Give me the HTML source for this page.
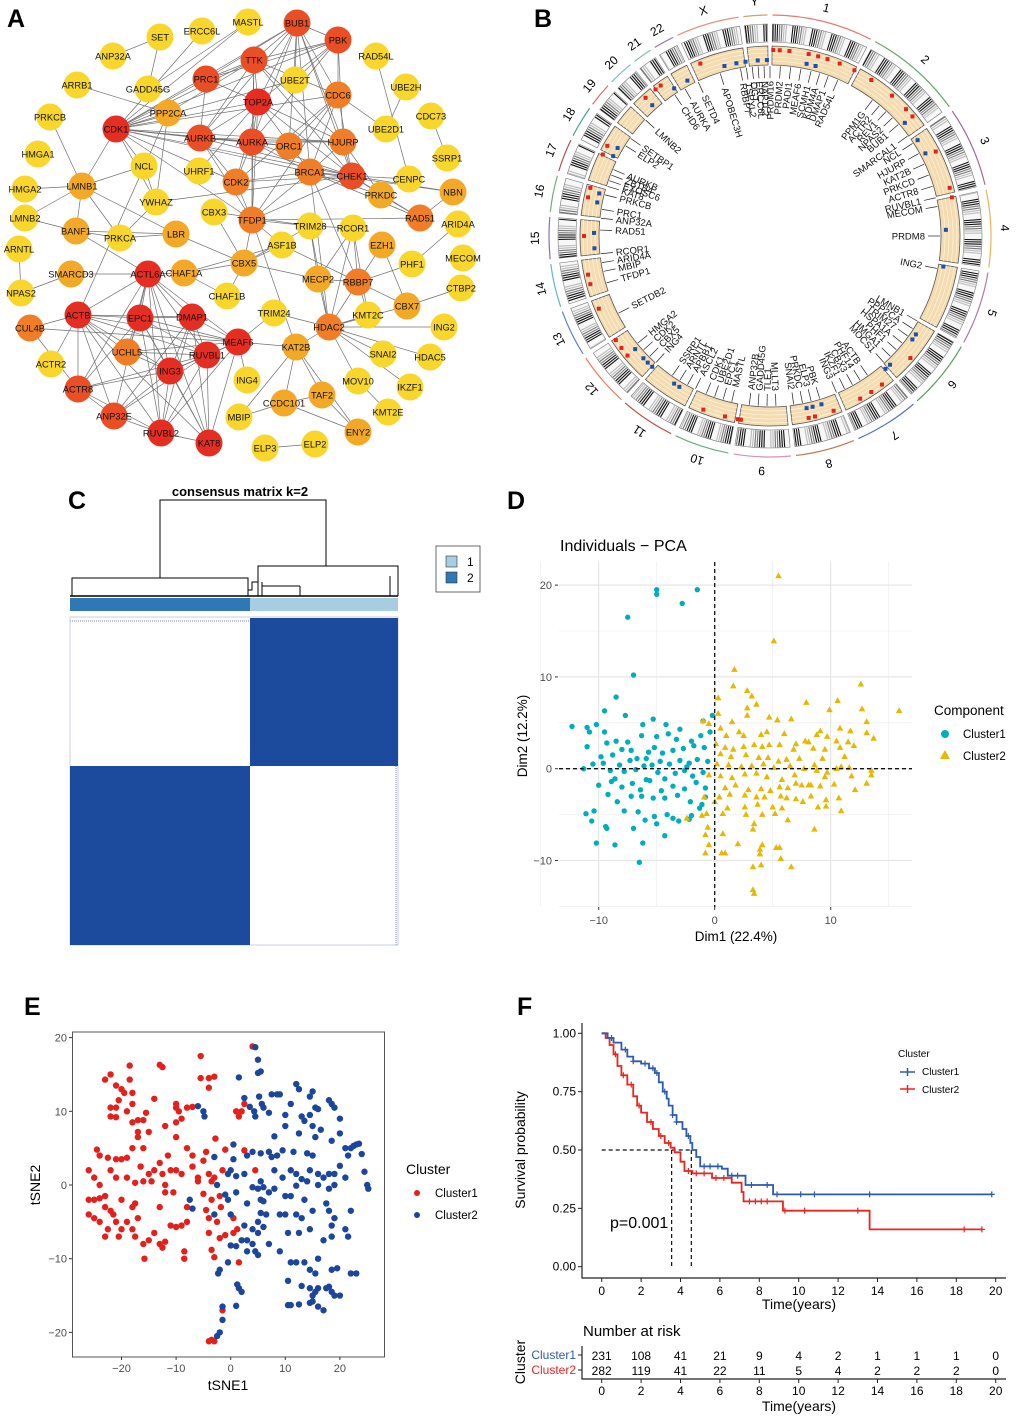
<!DOCTYPE html>
<html><head><meta charset="utf-8"><title>Multi-panel figure</title>
<style>
html,body{margin:0;padding:0;background:#fff;}
svg{display:block;font-family:"Liberation Sans",Arial,sans-serif;}
</style></head>
<body>
<svg id="fig" width="1020" height="1417" viewBox="0 0 1020 1417" xmlns="http://www.w3.org/2000/svg">
<rect x="0" y="0" width="1020" height="1417" fill="#fff"/>
<g id="pA"></g>
<g id="pB"></g>
<g id="pC"></g>
<g id="pD"></g>
<g id="pE"></g>
<g id="pF"></g>
<text x="7" y="27" font-size="25" font-weight="bold">A</text>
<text x="534" y="27" font-size="25" font-weight="bold">B</text>
<text x="68" y="509" font-size="25" font-weight="bold">C</text>
<text x="507" y="509" font-size="25" font-weight="bold">D</text>
<text x="24" y="1015" font-size="25" font-weight="bold">E</text>
<text x="517" y="1015" font-size="25" font-weight="bold">F</text>
</svg>
<script>
const NS='http://www.w3.org/2000/svg';
function mk(tag,attrs,parent){const e=document.createElementNS(NS,tag);for(const k in attrs)e.setAttribute(k,attrs[k]);parent.appendChild(e);return e;}
function tx(str,attrs,parent){const e=mk('text',attrs,parent);e.textContent=str;return e;}

/* ================= PANEL A: network ================= */
const netNodes=[["BUB1",297,23,"ro"],["PBK",338,40,"ro"],["MASTL",248,22,"y"],["ERCC6L",202,31,"y"],["SET",160,37,"y"],["ANP32A",113,56,"y"],["TTK",254,60,"ro"],["PRC1",206,79,"ro"],["UBE2T",295,80,"y"],["RAD54L",376,56,"y"],["UBE2H",406,87,"y"],["ARRB1",77,85,"y"],["GADD45G",148,89,"y"],["TOP2A",258,102,"r"],["CDC6",338,95,"o"],["PPP2CA",168,113,"oy"],["PRKCB",50,117,"y"],["CDC73",431,116,"y"],["CDK1",116,129,"r"],["UBE2D1",386,129,"y"],["AURKB",200,138,"ro"],["AURKA",252,142,"ro"],["ORC1",289,146,"o"],["HJURP",343,142,"o"],["HMGA1",38,154,"y"],["SSRP1",447,158,"y"],["NCL",144,166,"y"],["UHRF1",199,171,"y"],["BRCA1",310,172,"o"],["CHEK1",352,176,"ro"],["CENPC",409,179,"y"],["CDK2",236,182,"o"],["LMNB1",82,186,"oy"],["HMGA2",25,189,"y"],["PRKDC",381,195,"oy"],["NBN",453,192,"oy"],["YWHAZ",156,202,"y"],["CBX3",214,212,"y"],["TFDP1",252,220,"o"],["RAD51",420,218,"o"],["LMNB2",25,218,"y"],["TRIM28",310,226,"y"],["RCOR1",353,228,"y"],["ARID4A",458,224,"y"],["BANF1",76,231,"oy"],["PRKCA",120,238,"y"],["LBR",176,234,"oy"],["ASF1B",282,245,"y"],["EZH1",382,245,"oy"],["ARNTL",19,249,"y"],["MECOM",463,258,"y"],["CBX5",244,263,"oy"],["PHF1",412,264,"y"],["SMARCD3",71,274,"oy"],["ACTL6A",148,274,"r"],["CHAF1A",184,273,"oy"],["MECP2",318,279,"oy"],["RBBP7",358,282,"o"],["CTBP2",461,288,"y"],["NPAS2",21,293,"y"],["CHAF1B",227,296,"y"],["ACTB",78,315,"r"],["EPC1",140,318,"r"],["DMAP1",192,317,"r"],["CBX7",407,306,"oy"],["TRIM24",274,313,"y"],["KMT2C",368,315,"y"],["CUL4B",30,328,"o"],["HDAC2",329,327,"o"],["ING2",444,327,"y"],["MEAF6",238,342,"r"],["KAT2B",296,347,"oy"],["UCHL5",127,352,"o"],["RUVBL1",207,355,"r"],["SNAI2",383,354,"y"],["HDAC5",430,357,"y"],["ACTR2",51,364,"y"],["ING3",170,371,"r"],["ING4",247,380,"y"],["MOV10",358,381,"y"],["IKZF1",410,387,"y"],["ACTR8",78,389,"ro"],["TAF2",322,395,"oy"],["CCDC101",284,403,"oy"],["KMT2E",388,412,"y"],["ANP32E",114,416,"ro"],["MBIP",239,417,"y"],["ENY2",358,432,"oy"],["RUVBL2",161,433,"r"],["KAT8",209,443,"r"],["ELP3",265,448,"y"],["ELP2",315,444,"y"]];
const netEdgesSpec={
CDK1:"PRC1 TTK BUB1 PBK TOP2A AURKB AURKA ORC1 HJURP CHEK1 BRCA1 CDK2 TFDP1 LMNB1 NCL YWHAZ UBE2T CDC6 MASTL ERCC6L",
BUB1:"TTK PRC1 TOP2A AURKA AURKB CDC6 HJURP CHEK1 PBK UBE2T BRCA1 ORC1",
PBK:"TTK PRC1 TOP2A UBE2T AURKA HJURP CDC6",
TTK:"PRC1 TOP2A AURKA AURKB HJURP CDC6 TFDP1 CHEK1",
TOP2A:"AURKA AURKB PRC1 HJURP CHEK1 CDK2 UHRF1 BRCA1 TFDP1",
AURKB:"AURKA HJURP ORC1 CHEK1 TFDP1 PRC1 CDK2",
AURKA:"HJURP ORC1 TFDP1 CDK2 CHEK1 BRCA1",
CDC6:"ORC1 CHEK1 CDK2 TFDP1 UBE2D1 BRCA1",
HJURP:"CHEK1 BRCA1 PRKDC",
CHEK1:"BRCA1 PRKDC RAD51 NBN CDK2 TFDP1 CENPC YWHAZ",
BRCA1:"RAD51 NBN PRKDC RBBP7 TFDP1 CDK2 HDAC2",
RAD51:"NBN PRKDC TFDP1",
UBE2D1:"UBE2H",RAD54L:"CENPC",CDC73:"SSRP1",
TFDP1:"TRIM28 CBX5 ASF1B KAT2B CDK2",
TRIM28:"CBX5 CBX3 RCOR1 HDAC2 MECP2",
RCOR1:"HDAC2 RBBP7 KMT2C MECP2",
EZH1:"RBBP7 CBX7",PHF1:"RBBP7 ARID4A",
RBBP7:"HDAC2 MECP2 ASF1B CBX7 KMT2C",
HDAC2:"MECP2 KMT2C SNAI2 ING2 HDAC5 MOV10 IKZF1 CBX7 TRIM24",
CTBP2:"CBX7",KMT2E:"MOV10",
KAT2B:"TAF2 CCDC101 ENY2 MBIP HDAC2 MEAF6",
TAF2:"ENY2 CCDC101",CCDC101:"ENY2 MBIP",ELP3:"ELP2",ING4:"MEAF6",
ACTL6A:"ACTB EPC1 DMAP1 RUVBL1 RUVBL2 ING3 KAT8 MEAF6 SMARCD3 CHAF1A UCHL5 ANP32E ACTR8 BANF1",
ACTB:"EPC1 DMAP1 MEAF6 RUVBL1 ING3 KAT8 RUVBL2 ACTR8 CUL4B ACTR2 UCHL5 ANP32E PPP2CA",
EPC1:"DMAP1 MEAF6 RUVBL1 ING3 KAT8 RUVBL2 UCHL5 ACTR8",
DMAP1:"MEAF6 RUVBL1 ING3 KAT8 RUVBL2 ANP32E",
MEAF6:"RUVBL1 ING3 KAT8 RUVBL2 UCHL5 CUL4B TRIM24",
RUVBL1:"ING3 KAT8 RUVBL2 UCHL5 ANP32E ACTR8",
ING3:"KAT8 RUVBL2 ACTR8 ANP32E UCHL5",
RUVBL2:"KAT8 ACTR8 ANP32E",ACTR8:"ANP32E CUL4B",
LMNB1:"HMGA2 LMNB2 BANF1 PRKCB LBR PRKCA NCL",
BANF1:"LMNB2 PRKCA LBR",SMARCD3:"NPAS2",ARNTL:"NPAS2",
PRKCA:"YWHAZ LBR",YWHAZ:"NCL PPP2CA",LBR:"CBX5",
CBX5:"CHAF1A CHAF1B ASF1B CBX3 MECP2",CHAF1A:"CHAF1B ASF1B",
PPP2CA:"ARRB1 CDK1 TTK",ANP32A:"SET",SET:"GADD45G",GADD45G:"MASTL"};
const levelColor={r:"#e52d22",ro:"#ea4e24",o:"#f07e26",oy:"#f4a926",y:"#f8d62c"};
(function(){
 const g=document.getElementById('pA');
 const pos={};netNodes.forEach(n=>pos[n[0]]=n);
 const eg=mk('g',{},g);
 
 
 for(const a in netEdgesSpec){netEdgesSpec[a].split(' ').forEach(b=>{
   if(!pos[b])return;
   const l=mk('line',{x1:pos[a][1],y1:pos[a][2],x2:pos[b][1],y2:pos[b][2],stroke:'#707070','stroke-width':0.7},eg);
   
   
 });}
 netNodes.forEach(n=>{
   const ng=mk('g',{},g);
   
   
   mk('circle',{cx:n[1],cy:n[2],r:13.5,fill:levelColor[n[3]]},ng);
   tx(n[0],{x:n[1],y:n[2]+3.3,'text-anchor':'middle','font-size':9.3,fill:'#111'},ng);
 });
})();

/* ================= PANEL B: circos ================= */
const chrNames=["1","2","3","4","5","6","7","8","9","10","11","12","13","14","15","16","17","18","19","20","21","22","X","Y"];
const chrSizes=[249,243,198,191,181,171,159,146,141,136,135,134,115,107,103,90,81,78,59,63,48,51,155,59];
const chrColors=["#e8786c","#6aa86c","#9e6a9a","#e8b458","#b07ab0","#5c9c60","#5a70c8","#c07850","#d890b8","#68b080","#b85040","#e88060","#6080c8","#60b8c8","#8a6cb8","#70b070","#b05050","#50a090","#d07060","#70c0d0","#80c0b0","#9070b0","#e89080","#d0a070"];
const geneNames=["PRDM16","PRDM2","PADI1","MEAF6","SCMH1","KDM4A","DMAP1","RAD54L","PPM1G","ACTR2","REV1","NPAS2","BUB1","SMARCAL1","NCL","HJURP","KAT2B","PRKCD","ACTR8","RUVBL1","MECOM","PRDM8","ING2","LMNB1","PPP2CA","TRIM27","HSPA1A","PHF1","HMGA1","MOCS1","ACTB","PHF14","CBX3","IKZF1","ING3","PBK","ELP3","PRKDC","SNAI2","MLLT3","TLE1","GADD45G","ANP32B","MASTL","EPC1","UBE2D1","CDK1","ASCL2","APBB1","ARNTL","SSRP1","ING4","CBX5","CDK2","HMGA2","SETDB2","TFDP1","MBIP","ARID4A","RCOR1","RAD51","ANP32A","PRC1","PRKCB","KAT8","EXOSC6","ZBTB4","AURKB","ELP2","SETBP1","LMNB2","CHD6","AURKA","SETD4","APOBEC3H","RBBP7","TSPYL2","OGT","ERCC6L","NAP1L2"];
const geneAngles=[0,3.5,7,10.5,14,17,20,23.5,37,40,43,46,49,54,57,61,65,69,73,77,80,90,101,120,123,126,129,132,135,138,145,148,151,154,157,163,166,169,172,178,181,184,187,193,196,199,202,206,209,212,215,222,225,228,231,243,254,258,261,264,272,276,279,284,287,289,291,293,302,305,313,326,330,335,343,350,352,354,356,358];
const markRedAngles=[1,3,6,12,15,18,22,27,33,41,47,50,63,75,78,131,143,147,151,160,166,168,189,190,194,201,230,233,236,247,255,258,270,282,285,296,299,318,322,324,338];
const markBlueAngles=[12,15,50,57,62,88,100,124,126,137,139,163,166,168,211,213,222,224,226,230,266,271,281,284,297,300,318,327,332,345,349,352,356,359];
(function(){
 const g=document.getElementById('pB');
 const cx=770,cy=236;
 const P=(r,t)=>{const a=t*Math.PI/180;return [cx+r*Math.sin(a),cy-r*Math.cos(a)];};
 const sector=(r1,r2,a1,a2)=>{const p1=P(r2,a1),p2=P(r2,a2),p3=P(r1,a2),p4=P(r1,a1);const lg=(a2-a1)>180?1:0;
   return `M${p1[0]},${p1[1]} A${r2},${r2} 0 ${lg} 1 ${p2[0]},${p2[1]} L${p3[0]},${p3[1]} A${r1},${r1} 0 ${lg} 0 ${p4[0]},${p4[1]} Z`;};
 const arc=(r,a1,a2)=>{const p1=P(r,a1),p2=P(r,a2);return `M${p1[0]},${p1[1]} A${r},${r} 0 0 1 ${p2[0]},${p2[1]}`;};
 const gap=1.3,total=chrSizes.reduce((a,b)=>a+b,0),scale=(360-gap*24)/total;
 let a=gap/2;
 chrNames.forEach((nm,i)=>{
   const a1=a,a2=a+chrSizes[i]*scale;a=a2+gap;
   const cg=mk('g',{},g);
   
   
   mk('path',{d:arc(221,a1,a2),fill:'none',stroke:chrColors[i],'stroke-width':1.2},cg);
   const mid=(a1+a2)/2,lp=P(235,mid);
   tx(nm,{x:lp[0],y:lp[1]+4,'text-anchor':'middle','font-size':12,transform:`rotate(${mid} ${lp[0]} ${lp[1]})`},cg);
   mk('path',{d:sector(194,212,a1,a2),fill:'#f7f7f7',stroke:'#777','stroke-width':0.6},cg);
   const n=Math.floor((a2-a1)/0.6);
   for(let k=0;k<n;k++){
     const s=(k*37+i*11)%9;
     if(s>6)continue;
     const col=s<3?'#111':(s<5?'#777':'#bbb');
     const b1=a1+(k+0.1)*(a2-a1)/n,b2=b1+0.5*(a2-a1)/n;
     mk('path',{d:sector(194.5,211.5,b1,b2),fill:col},cg);
   }
   mk('path',{d:sector(171,190,a1,a2),fill:'#f4dcb0',stroke:'#555','stroke-width':0.8},cg);
   [175,179,183,187].forEach(r=>mk('path',{d:arc(r,a1,a2),fill:'none',stroke:'#fff7e6','stroke-width':0.6},cg));
 });
 markRedAngles.forEach(t=>{const p=P(186,t);const m=mk('rect',{x:p[0]-2,y:p[1]-2,width:4,height:4,fill:'#e3241c'},g);
   
   });
 markBlueAngles.forEach(t=>{const p=P(176,t);const m=mk('rect',{x:p[0]-2,y:p[1]-2,width:4,height:4,fill:'#1f4fa8'},g);
   
   });
 geneNames.forEach((nm,i)=>{
   const t=geneAngles[i];
   const p1=P(170,t),p2=P(158,t);
   const lg=mk('g',{},g);
   
   
   mk('line',{x1:p1[0],y1:p1[1],x2:p2[0],y2:p2[1],stroke:'#222','stroke-width':0.7},lg);
   const q=P(155,t);
   let rot,anchor;
   if(t<=180){rot=t-90;anchor='end';}else{rot=t-270;anchor='start';}
   tx(nm,{x:q[0],y:q[1]+3.3,'text-anchor':anchor,'font-size':9.5,fill:'#111',transform:`rotate(${rot} ${q[0]} ${q[1]})`},lg);
 });
})();

/* ================= PANEL C: consensus ================= */
(function(){
 const g=document.getElementById('pC');
 tx('consensus matrix k=2',{x:240,y:496,'text-anchor':'middle','font-size':13,'font-weight':'bold'},g);
 const dg=mk('g',{stroke:'#000','stroke-width':1,fill:'none'},g);
 
 
 mk('path',{d:'M160,578 V500 H326 V566'},dg);
 mk('path',{d:'M72,596 V578 H248 V596'},dg);
 mk('path',{d:'M258,596 V566 H398 V596'},dg);
 mk('path',{d:'M248,590 H252 V582 H258'},dg);
 mk('line',{x1:70,y1:596,x2:398,y2:596,'stroke-width':1.5},dg);
 mk('path',{d:'M262,586 H300 M262,582 V596 M300,586 V596 M390,576 V596'},dg);
 const b1=mk('rect',{x:70,y:598,width:180,height:13,fill:'#2f78b5'},g);
 
 
 const b2=mk('rect',{x:250,y:598,width:148,height:13,fill:'#a7cde3'},g);
 
 
 mk('rect',{x:70,y:617,width:328,height:328,fill:'#fff',stroke:'#c8cce6','stroke-width':1},g);
 const h1=mk('rect',{x:250,y:618,width:148,height:148,fill:'#1c4a9c'},g);
 
 
 const h2=mk('rect',{x:70,y:766,width:180,height:179,fill:'#1c4a9c'},g);
 
 
 mk('line',{x1:396,y1:766,x2:396,y2:945,stroke:'#b9c1e2','stroke-width':2,'stroke-dasharray':'1 1'},g);
 mk('line',{x1:70,y1:621,x2:250,y2:621,stroke:'#b9c1e2','stroke-width':2,'stroke-dasharray':'1 1'},g);
 const lg=mk('g',{},g);
 
 
 mk('rect',{x:436,y:546,width:44,height:46,fill:'#fff',stroke:'#444','stroke-width':0.8},lg);
 mk('rect',{x:446,y:556,width:11,height:11,fill:'#a7cde3',stroke:'#333','stroke-width':0.6},lg);
 mk('rect',{x:446,y:572,width:11,height:11,fill:'#2f78b5',stroke:'#333','stroke-width':0.6},lg);
 tx('1',{x:467,y:566,'font-size':12},lg);
 tx('2',{x:467,y:582,'font-size':12},lg);
})();

/* ================= PANEL D: PCA ================= */
const pcaC1x=[-5,-5,-1.5,-2.8,-7.5,-7,-8.5,-9.5,-7.7,-5.3,-12.3,-11,-10.2,-10.8,-9.5,-6.2,-4.2,-3,-1,-0.2,-11,-9.3,-8.5,-7.5,-6.3,-5,-4,-3.3,-2,-1.2,-0.4,-9.8,-8.8,-8,-7.2,-6.7,-5.7,-5.2,-4.5,-3.6,-2.7,-1.8,-0.9,-10.5,-9.6,-8.2,-7.3,-6.1,-5.4,-4.7,-3.9,-3,-2.2,-1.5,-0.6,-11.3,-9,-7.8,-6.8,-5.9,-4.9,-4.3,-3.4,-2.6,-1.9,-1,-10,-8.9,-8,-7.1,-6.4,-5.6,-4.6,-3.6,-2.6,-1.6,-0.8,-9.2,-8.4,-7.2,-6.3,-5.3,-4.3,-3.2,-2.1,-1.1,-11.1,-10.6,-9.3,-7.8,-6.6,-6,-5.2,-4.1,-3.6,-2.2,-8.6,-10.2,-6.2,-4.3,-7,-6.5,-5,-2,-0.8,-1.3,-10.4,-9.4,-3.1,-5.9,-2.4,-8.6];
const pcaC1y=[19.5,19,19.5,18,16.5,10.2,7.8,6.3,5.8,5.4,4.6,4.5,4.8,4,4,4.8,4.8,4.3,5.2,5.8,2.4,2.8,3,2.9,3.6,3.5,3.8,3.2,3,3.6,4,1.3,1.5,2.1,2,1.1,1.8,2.3,1.7,2,2.2,2.5,2.3,0.5,0.6,0.4,0.9,0.3,0.4,0.8,0.5,0.9,0.6,1,0.8,0,-0.2,-0.3,-0.1,-1.2,-0.4,-1.1,-0.5,-0.2,-0.8,-0.4,-1.8,-1.4,-2,-1.6,-2.3,-1.3,-2.4,-1.9,-2.2,-1.5,-2.1,-2.8,-3.6,-3,-3,-3.2,-3.2,-2.9,-3.6,-3.9,-4.9,-5.7,-6.5,-4.6,-4.7,-5.6,-5.2,-5,-5.4,-5.5,-8.3,-8.1,-8.1,-7.3,-6.5,-10.2,-6,-5.1,-3.1,-4.3,-4.6,-6.3,-5.7,1.1,0.2,-1.1];
const pcaC2x=[5.5,5.1,1.7,1.6,2.8,3.2,0.3,3.6,2.8,2.8,0.3,1.5,4.7,5.4,6.6,7.9,9.9,10.6,12.6,12.7,13.1,15.9,13.1,13.7,11.7,10.8,9.1,8.8,9.7,10.5,11.5,12,-1,-0.5,0.5,1,2.1,2.5,4,4.5,6,7.8,8.1,0.1,0.9,1.6,2.5,3.4,4.1,4.7,5.6,6.8,7,8.5,9.5,10.8,11.2,0.5,1.4,2.7,3.8,4.6,5.5,6.2,7.3,8.6,9.3,10.9,11.6,0.2,1.2,2.3,3.2,4.2,5.1,6.5,7.7,8.8,9.7,10.5,0.5,1.5,2.6,3.6,4.5,5.8,6.9,7.5,8.3,9.5,11.8,13.5,13.5,-0.5,0.9,1.8,2.9,4,4.8,5.6,6.3,7,8.1,9.1,10.3,12.1,13.1,-0.9,0.4,1.3,2.6,3.6,4.3,5.7,6.2,7,7.6,8.3,9.6,10.7,0,1.1,2.6,3.7,5,5.8,8.9,9.6,10.9,0.7,2.7,4.1,5.2,-2.4,-0.7,3.4,3.3,8.6,-0.8,0.7,-0.5,2,-0.8,0.6,0.9,3.9,4.1,5.3,5.6,3.9,5.7,3.3,4,6.6,3.3,3.4,-1.1,6.3,-0.6];
const pcaC2y=[21,13.9,10.8,9,8.5,7.9,7.7,7,6.6,5.8,6,5.1,5.6,5.3,5.4,7.2,6.4,7.4,9.2,6.5,5.1,6.3,3.9,3.3,4.1,4.4,4.1,3.7,3.5,3,2.9,2.5,5.2,4.9,4.4,3.6,4,3.6,3.7,4,3.8,3,2.9,2.7,2.3,2.1,2.4,2.6,2.4,2.6,2.6,2.1,2.7,2.2,2.1,2.3,1.3,1.6,1.3,1.5,1.2,1.2,0.8,1,1.1,0.4,1.1,0.2,0.1,0.5,0.4,0.2,0.3,0.5,0.1,0.3,0,-0.2,-0.4,0,-0.8,-1,-0.6,-0.5,-0.9,-1.2,-0.7,-1.8,-1.8,-0.9,-0.8,-0.7,-0.2,-0.7,-2.1,-1.8,-2.3,-2.2,-2.4,-2,-2.1,-1.6,-1.8,-1.9,-1.7,-2.3,-1.6,-3.1,-3.1,-2.8,-2.9,-3.1,-3.1,-3,-3.2,-3.3,-3.6,-3,-3.4,-3.2,-3.6,-4.3,-4.2,-3.9,-4.2,-4.3,-4.2,-4.1,-4.6,-4.9,-5,-5,-4.9,-5.4,-4.9,-6,-6.6,-6.6,-7.2,-7.1,-8.3,-8.2,-9.2,-9.2,-9.2,-8.8,-8.3,-8.6,-8.6,-9.3,-9.8,-10.7,-10.5,-10.7,-13.2,-13.6,-5.1,-5.6,-6.4];
const pcaXTicks=[-10,0,10];
const pcaYTicks=[-10,0,10,20];
(function(){
 const g=document.getElementById('pD');
 const X=v=>714.7+11.6*v, Y=v=>768.7-9.18*v;
 const L=559,R=912,T=562,B=907;
 tx('Individuals \u2212 PCA',{x:560,y:551,'font-size':16},g);
 const gg=mk('g',{},g);
 
 
 [-15,-5,5,15].forEach(v=>mk('line',{x1:X(v),x2:X(v),y1:T,y2:B,stroke:'#f0f0f0','stroke-width':0.8},gg));
 [-15,-5,5,15].forEach(v=>mk('line',{x1:L,x2:R,y1:Y(v),y2:Y(v),stroke:'#f0f0f0','stroke-width':0.8},gg));
 pcaXTicks.forEach(v=>{mk('line',{x1:X(v),x2:X(v),y1:T,y2:B,stroke:'#e6e6e6','stroke-width':1.2},gg);
   tx(String(v).replace('-','\u2212'),{x:X(v),y:924,'text-anchor':'middle','font-size':11,fill:'#4d4d4d'},g);
   mk('line',{x1:X(v),x2:X(v),y1:B,y2:B+3,stroke:'#333'},g);});
 pcaYTicks.forEach(v=>{mk('line',{x1:L,x2:R,y1:Y(v),y2:Y(v),stroke:'#e6e6e6','stroke-width':1.2},gg);
   tx(String(v).replace('-','\u2212'),{x:552,y:Y(v)+4,'text-anchor':'end','font-size':11,fill:'#4d4d4d'},g);
   mk('line',{x1:555,x2:558,y1:Y(v),y2:Y(v),stroke:'#333'},g);});
 const c1=mk('g',{fill:'#00aebb'},g);
 
 
 pcaC1x.forEach((v,i)=>mk('circle',{cx:X(v),cy:Y(pcaC1y[i]),r:2.7},c1));
 const c2=mk('g',{fill:'#e6b800'},g);
 
 
 pcaC2x.forEach((v,i)=>{const x=X(v),y=Y(pcaC2y[i]);mk('path',{d:`M${x},${y-3.6} L${x+3.3},${y+2.3} L${x-3.3},${y+2.3}Z`},c2);});
 mk('line',{x1:X(0),x2:X(0),y1:T,y2:B,stroke:'#111','stroke-width':1.3,'stroke-dasharray':'4 3'},g);
 mk('line',{x1:L,x2:R,y1:Y(0),y2:Y(0),stroke:'#111','stroke-width':1.3,'stroke-dasharray':'4 3'},g);
 tx('Dim1 (22.4%)',{x:736,y:941,'text-anchor':'middle','font-size':13.5},g);
 tx('Dim2 (12.2%)',{x:527,y:736,'text-anchor':'middle','font-size':13.5,transform:'rotate(-90 527 736)'},g);
 const lg=mk('g',{},g);
 
 
 tx('Component',{x:934,y:715,'font-size':13.5},lg);
 mk('circle',{cx:945,cy:734,r:4,fill:'#00aebb'},lg);
 tx('Cluster1',{x:963,y:738,'font-size':11.5},lg);
 mk('path',{d:'M945,750 L950,759 L940,759Z',fill:'#e6b800'},lg);
 tx('Cluster2',{x:963,y:760,'font-size':11.5},lg);
})();

/* ================= PANEL E: tSNE ================= */
const tsneC1x=[-26,-25,-24,-26,-25,-24,-23,-26,-25,-24,-23,-22,-22.5,-23,-21,-20,-20.5,-19,-20,-18,-17.5,-18,-17.5,-16,-15,-17,-21.5,-21,-22,-21,-22.5,-24,-24.5,-20,-19,-19,-18,-17,-16,-16.5,-16,-17.5,-15,-14.5,-14,-13,-12.5,-12,-11.5,-11,-10,-9,-10.5,-12,-13,-14,-13,-12.5,-11,-10,-9,-8,-8,-8.5,-8.5,-15.8,-12,-23,-22,-21,-20,-19.5,-18.5,-18.5,-18,-20.5,-21,-22,-22,-21,-19,-18,-18,-17,-16,-15.5,-17,-15,-14,-13,-12.5,-12,-10,-10,-9,-10,-9.5,-8,-7,-10,-8,-7,-7,-6,-5,-4.5,-4,-3.5,-3,-2.8,-1,-1.5,-2,-3.5,-4.5,-4,-4,-3,-3.5,-2,-2.5,-1,0.5,1.2,0.5,1.5,-5.5,-5.5,-4,-3,-4,1,2,2.5,1.5,4,2.5,4.5,-1.5,-3.5,-4,-3,-6,-5,-1.8];
const tsneC1y=[2,1,0,-2,-2,-1.8,-1.5,-4,-4.5,-5,-3,-3.5,-6,-7,-5,-6,-7,-5,-2,-3,-2.5,-6,-7,-8,-7.5,-4.5,-4,1,2,3.5,3.7,4,4.8,3.5,3.7,1,5,6.5,5,2.5,0.5,0.3,1.5,0.5,2,3,1.5,0,4,2,2,1.5,-1,-1,-3,-6.5,-8,-8.5,-5.5,-5.7,-5.5,-5,-3,-9,-10,-10,-7.7,14.3,15,13.5,13,12.5,14.3,16.2,12.5,11.5,10.5,10.5,9.3,9.2,10,11,8.5,8.8,8.8,9.8,7.2,7.2,11.7,16.3,16,8,11,10.5,9,8.5,10,10.5,10.6,6.5,5,4,2.5,1,3.3,4.5,1.5,0.5,1,6.3,4.8,2,-1.5,-2,-3.4,-4.5,-6.5,-9.8,-8.8,-7.2,-5,-6.8,-6.5,-6,-4.5,-10.5,17.5,14.5,14.5,14.7,13.2,10,10,11,9.3,18.8,4.7,2,-17,-21,-21.2,-21.2,0.5,-1.2,-3];
const tsneC2x=[-6,-5,-4.8,4.5,5,5,5.5,1.5,2.5,3.5,4.3,4.5,5.2,5.7,6,7,7.5,8.5,9,10,10,11,12,12.5,13,13.5,14.5,15,14.5,15.5,16,15,18,18.5,19,20,20,18.5,16.5,15.5,14,15,12.5,11.5,9.5,8.5,8,7,7.5,5.5,4,3,0.5,0.5,-3,0,1,2.5,4,5,5.5,6,7,8,9.5,10,11,11,12,12,13,14,14.5,16,16,17,18,18,19,19,21,21.5,22,22.5,23,23.5,24,24.5,25,25.2,21,20,-2.5,-1,-0.5,1,0,3,5.5,6,6.5,5,4,3,2,4,4.5,5,3,1,0,-0.5,-2,-2.3,1.2,1.5,2,1,-1.5,-1.5,-2,-2.5,-7.5,-7,-3,9,10,10.5,12,12.5,13.5,13,14.5,15,17,17.5,18,18.5,19,18.5,21,21.5,22,9,11,12,13.5,14.5,16,15.5,18.5,19.5,22,23,10.5,10.5,11,12.5,13,14.5,15,15.5,16,14.5,15,16,17,17.5,18,18.5,19,20,7,6,5,2.5,-0.5,8,5.5];
const tsneC2y=[10.7,10,9.3,18.7,17,15.2,15.4,14.6,11.8,10.6,10,9.3,12,11,10.5,9.8,12.3,12.3,12.3,9.5,8,11,13.7,13,9.3,8.7,12,12.7,9.5,10.5,10.3,8,11.5,11,10.5,9,7,6,7.5,6.5,4.3,4,7,4.5,4.7,4,6.6,4.5,3.8,4.3,4.5,4,5.5,3.5,3.8,2,1.2,1.5,-0.3,-0.5,0.5,-0.3,-1,2,1,-1.5,-1.5,2,1.5,-0.1,0.8,0.5,2,1.5,0,1,1.5,-0.5,1.5,0,5,4,5,5.3,5.5,5.6,4.2,1.8,0,-0.5,1,2.6,0,-1.3,-2,-1,-4,-2.5,-2,-2.2,-4,-5,-6,-7.5,-7.5,-8,-9,-9.5,-9,-8.3,-8.2,-10.5,-11.5,-12,-13.5,-14,-14.5,-16.4,-18.3,-16.5,-20,-20.5,-2,-3.2,-4,-4,-4,-6.5,-4,-6.5,-2,-4.5,-6,-3.5,-7.5,-2.5,-3.5,-5.5,-4.5,-7,-6,-7,-3.5,-9,-10.5,-10.5,-10.5,-11.5,-10,-12,-11.5,-11.3,-12,-12,-13,-16.3,-16.3,-16.2,-13.7,-14,-15,-14.5,-14,-16,-15.8,-16.5,-17,-14,-13.8,-14.5,-15,-15,-8,-5.7,-6.5,-5.5,1.5,-0.5,-3.8];
const tsneXTicks=[-20,-10,0,10,20];
const tsneYTicks=[-20,-10,0,10,20];
(function(){
 const g=document.getElementById('pE');
 const X=v=>230.7+5.46*v, Y=v=>1185-7.37*v;
 const fr=mk('rect',{x:72.5,y:1032,width:312,height:325,fill:'#fff',stroke:'#555','stroke-width':1},g);
 
 
 tsneXTicks.forEach(v=>{mk('line',{x1:X(v),x2:X(v),y1:1357,y2:1360,stroke:'#333'},g);
   tx(String(v).replace('-','\u2212'),{x:X(v),y:1372,'text-anchor':'middle','font-size':11,fill:'#4d4d4d'},g);});
 tsneYTicks.forEach(v=>{mk('line',{x1:69,x2:72,y1:Y(v),y2:Y(v),stroke:'#333'},g);
   tx(String(v).replace('-','\u2212'),{x:67,y:Y(v)+4,'text-anchor':'end','font-size':11,fill:'#4d4d4d'},g);});
 const c1=mk('g',{fill:'#e3201b'},g);
 
 
 tsneC1x.forEach((v,i)=>mk('circle',{cx:X(v),cy:Y(tsneC1y[i]),r:3.2},c1));
 const c2=mk('g',{fill:'#1b469c'},g);
 
 
 tsneC2x.forEach((v,i)=>mk('circle',{cx:X(v),cy:Y(tsneC2y[i]),r:3.2},c2));
 tx('tSNE1',{x:228,y:1390,'text-anchor':'middle','font-size':14},g);
 tx('tSNE2',{x:40,y:1185,'text-anchor':'middle','font-size':14,transform:'rotate(-90 40 1185)'},g);
 const lg=mk('g',{},g);
 
 
 tx('Cluster',{x:406,y:1174,'font-size':14},lg);
 mk('circle',{cx:417,cy:1193,r:3,fill:'#e3201b'},lg);
 tx('Cluster1',{x:435,y:1197,'font-size':11.5},lg);
 mk('circle',{cx:417,cy:1215,r:3,fill:'#1b469c'},lg);
 tx('Cluster2',{x:435,y:1219,'font-size':11.5},lg);
})();

/* ================= PANEL F: Kaplan-Meier ================= */
const kmT1=[0.3,0.6,1,1.3,1.6,2,2.4,2.7,2.9,3.1,3.3,3.4,3.6,3.8,4.1,4.3,4.5,4.6,4.8,5,6.1,6.4,7.3,8.7,19.8];
const kmS1=[0.98,0.96,0.93,0.90,0.88,0.87,0.85,0.83,0.79,0.75,0.72,0.69,0.65,0.62,0.59,0.56,0.53,0.50,0.47,0.43,0.42,0.39,0.35,0.31,0.31];
const kmT2=[0.2,0.4,0.6,0.8,1,1.3,1.6,1.8,2,2.3,2.6,2.9,3.2,3.5,3.7,4,4.2,4.6,5.6,6.6,7.1,7.2,9.2,13.6,19.3];
const kmS2=[0.98,0.95,0.91,0.86,0.82,0.78,0.73,0.69,0.66,0.62,0.59,0.56,0.53,0.51,0.49,0.45,0.41,0.40,0.38,0.36,0.32,0.28,0.24,0.16,0.16];
const kmCens1=[0.5,1.2,1.6,2.2,2.6,2.8,3.2,3.6,3.8,4.4,5.2,5.5,5.9,6.6,6.9,7.6,8.4,8.9,10.1,10.8,13.6,19.8];
const kmCens2=[0.7,1.1,1.5,1.9,2.5,3,3.4,4.4,4.8,5.2,5.8,6.2,7.5,7.8,8.1,8.4,9.3,10.3,13,18.4,19.3];
const riskTimes=[0,2,4,6,8,10,12,14,16,18,20];
const risk1=[231,108,41,21,9,4,2,1,1,1,0];
const risk2=[282,119,41,22,11,5,4,2,2,2,0];
const survTicks=[0,0.25,0.5,0.75,1];
(function(){
 const g=document.getElementById('pF');
 const X=t=>601.7+19.7*t, Y=s=>1266.7-233.4*s;
 const ax=mk('path',{d:'M582,1023 V1278 H1006',fill:'none',stroke:'#222','stroke-width':1.2},g);
 
 
 survTicks.forEach(v=>{mk('line',{x1:578,x2:582,y1:Y(v),y2:Y(v),stroke:'#222'},g);
   tx(v.toFixed(2),{x:576,y:Y(v)+4,'text-anchor':'end','font-size':12},g);});
 riskTimes.forEach(t=>{mk('line',{x1:X(t),x2:X(t),y1:1278,y2:1282,stroke:'#222'},g);
   tx(String(t),{x:X(t),y:1295,'text-anchor':'middle','font-size':12},g);});
 tx('Time(years)',{x:799,y:1309,'text-anchor':'middle','font-size':14},g);
 tx('Survival probability',{x:525,y:1150,'text-anchor':'middle','font-size':14,transform:'rotate(-90 525 1150)'},g);
 const med=mk('path',{d:`M${X(0)},${Y(0.5)} H${X(4.55)} M${X(3.55)},${Y(0.5)} V${Y(0)} M${X(4.55)},${Y(0.5)} V${Y(0)}`,fill:'none',stroke:'#111','stroke-width':1.2,'stroke-dasharray':'4 3'},g);
 
 
 function step(T,S){let d=`M${X(0)},${Y(1)}`;T.forEach((t,i)=>{d+=` H${X(t)} V${Y(S[i])}`;});return d;}
 function survAt(T,S,t){let s=1;T.forEach((tt,i)=>{if(tt<=t)s=S[i];});return s;}
 function curve(T,S,C,col,name){
   const cg=mk('g',{},g);
   
   
   mk('path',{d:step(T,S),fill:'none',stroke:col,'stroke-width':1.8},cg);
   C.forEach(t=>{const x=X(t),y=Y(survAt(T,S,t));mk('path',{d:`M${x-3},${y} H${x+3} M${x},${y-3} V${y+3}`,stroke:col,'stroke-width':1.2},cg);});
 }
 curve(kmT2,kmS2,kmCens2,'#e8251f','km-curve-cluster2');
 curve(kmT1,kmS1,kmCens1,'#2a5cae','km-curve-cluster1');
 tx('p=0.001',{x:610,y:1228,'font-size':16},g);
 const lg=mk('g',{},g);
 
 
 tx('Cluster',{x:898,y:1057,'font-size':10},lg);
 mk('path',{d:'M900,1072 H915 M907.5,1068 V1076',stroke:'#2a5cae','stroke-width':1.5},lg);
 tx('Cluster1',{x:922,y:1075,'font-size':10},lg);
 mk('path',{d:'M900,1089 H915 M907.5,1085 V1093',stroke:'#e8251f','stroke-width':1.5},lg);
 tx('Cluster2',{x:922,y:1093,'font-size':10},lg);
 const rt=mk('g',{},g);
 
 
 tx('Number at risk',{x:583,y:1336,'font-size':15},rt);
 mk('path',{d:'M582,1346 V1379 H1006',fill:'none',stroke:'#222','stroke-width':1.2},rt);
 tx('Cluster1',{x:576,y:1359,'text-anchor':'end','font-size':12,fill:'#2a5cae'},rt);
 tx('Cluster2',{x:576,y:1374,'text-anchor':'end','font-size':12,fill:'#e8251f'},rt);
 mk('line',{x1:578,x2:582,y1:1355,y2:1355,stroke:'#222'},rt);
 mk('line',{x1:578,x2:582,y1:1370,y2:1370,stroke:'#222'},rt);
 riskTimes.forEach((t,i)=>{
   tx(String(risk1[i]),{x:X(t),y:1360,'text-anchor':'middle','font-size':12},rt);
   tx(String(risk2[i]),{x:X(t),y:1375,'text-anchor':'middle','font-size':12},rt);
   mk('line',{x1:X(t),x2:X(t),y1:1379,y2:1383,stroke:'#222'},rt);
   tx(String(t),{x:X(t),y:1395,'text-anchor':'middle','font-size':12},rt);
 });
 tx('Time(years)',{x:799,y:1411,'text-anchor':'middle','font-size':14},rt);
 tx('Cluster',{x:525,y:1362,'text-anchor':'middle','font-size':14,transform:'rotate(-90 525 1362)'},rt);
})();
</script>
</body></html>
